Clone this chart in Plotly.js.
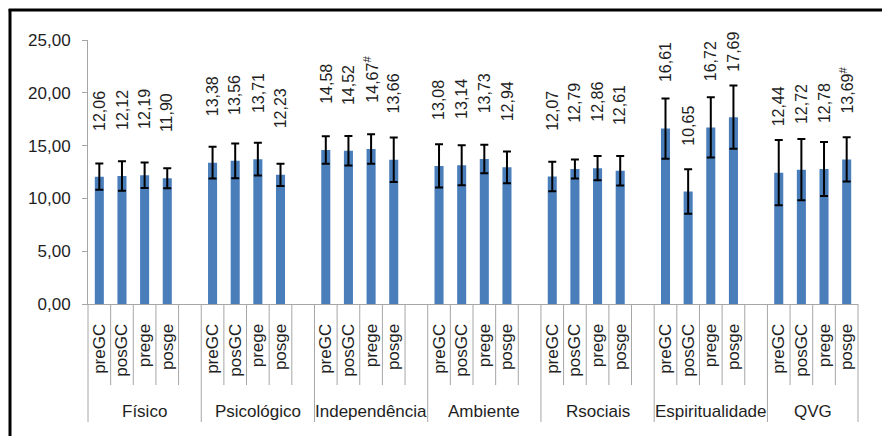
<!DOCTYPE html>
<html>
<head>
<meta charset="utf-8">
<script src="https://cdn.plot.ly/plotly-3.0.1.min.js"></script>
<style>
  html, body { margin: 0; padding: 0; background: #fff; }
  #chart { width: 882px; height: 436px; }
</style>
</head>
<body>
<div id="chart"></div>
<script>
// ---- data ----
const groups = ['Físico', 'Psicológico', 'Independência', 'Ambiente', 'Rsociais', 'Espiritualidade', 'QVG'];
const subcats = ['preGC', 'posGC', 'prege', 'posge'];
const means = [
  12.06, 12.12, 12.19, 11.90,
  13.38, 13.56, 13.71, 12.23,
  14.58, 14.52, 14.67, 13.66,
  13.08, 13.14, 13.73, 12.94,
  12.07, 12.79, 12.86, 12.61,
  16.61, 10.65, 16.72, 17.69,
  12.44, 12.72, 12.78, 13.69
];
const sds = [
  1.25, 1.40, 1.20, 0.95,
  1.50, 1.65, 1.55, 1.05,
  1.30, 1.40, 1.40, 2.10,
  2.05, 1.90, 1.35, 1.50,
  1.40, 0.90, 1.15, 1.40,
  2.85, 2.10, 2.85, 3.00,
  3.10, 2.90, 2.55, 2.10
];
const flags = [
  '', '', '', '',
  '', '', '', '',
  '', '', '#', '',
  '', '', '', '',
  '', '', '', '',
  '', '', '', '',
  '', '', '', '#'
];
const yTickVals = [0, 5, 10, 15, 20, 25];
const yTickText = ['0,00', '5,00', '10,00', '15,00', '20,00', '25,00'];

// ---- build ----
const SLOTS = subcats.length + 1;           // 4 bars + one empty slot per group
const nSlotsTotal = groups.length * SLOTS - 1; // last group has no trailing empty slot
const xMin = -0.5, xMax = nSlotsTotal - 0.5;

const xs = [], ticktext = [];
groups.forEach((g, gi) => subcats.forEach((s, si) => { xs.push(gi * SLOTS + si); ticktext.push(s); }));

const fmt = v => v.toFixed(2).replace('.', ',');
const font = 'Liberation Sans, Arial, sans-serif';
const txtCol = '#1e1e1e';
const lineCol = '#a6a6a6';

const trace = {
  type: 'bar',
  x: xs,
  y: means,
  width: 0.4,
  marker: { color: '#4a7ebb', line: { width: 0 } },
  error_y: { type: 'data', array: sds, visible: true, color: '#000', thickness: 2, width: 4 },
  hoverinfo: 'none'
};

const px = v => (v - xMin) / (xMax - xMin);
const innerBottom = -0.307, groupBottom = -0.447;
const shapes = [];
for (let k = 0; k <= nSlotsTotal; k++) {
  const b = k - 0.5;
  const isGroup = (k % SLOTS === 0) || k === nSlotsTotal;
  shapes.push({
    type: 'line', xref: 'paper', yref: 'paper',
    x0: px(b), x1: px(b), y0: 0, y1: isGroup ? groupBottom : innerBottom,
    line: { color: lineCol, width: 1 }
  });
}
// outer frame
shapes.push({ type: 'line', xref: 'paper', yref: 'paper', x0: -0.1013, x1: -0.1013, y0: 1.117, y1: -0.6, line: { color: '#000', width: 3 } });
shapes.push({ type: 'line', xref: 'paper', yref: 'paper', x0: -0.103, x1: 1.05, y0: 1.1136, y1: 1.1136, line: { color: '#000', width: 3 } });

const annotations = [];
means.forEach((v, i) => {
  annotations.push({
    x: xs[i], y: v, xref: 'x', yref: 'y',
    text: fmt(v) + (flags[i] ? '<sup>' + flags[i] + '</sup>' : ''),
    showarrow: false, textangle: -90,
    xanchor: 'center', yanchor: 'bottom', yshift: 44,
    font: { family: font, size: 16, color: txtCol }
  });
});
groups.forEach((g, gi) => {
  const start = gi * SLOTS - 0.5;
  const end = Math.min(start + SLOTS, xMax);
  annotations.push({
    x: px((start + end) / 2), y: -0.409, xref: 'paper', yref: 'paper',
    text: g, showarrow: false, xanchor: 'center', yanchor: 'middle',
    font: { family: font, size: 17, color: txtCol }
  });
});

const layout = {
  width: 882, height: 436, autosize: false,
  margin: { l: 88, r: 24, t: 40, b: 132, pad: 0 },
  paper_bgcolor: '#fff', plot_bgcolor: '#fff',
  showlegend: false,
  font: { family: font, size: 17, color: txtCol },
  xaxis: {
    type: 'linear', range: [xMin, xMax], fixedrange: true,
    tickmode: 'array', tickvals: xs, ticktext: ticktext, tickangle: -90,
    ticks: '', ticklabelstandoff: 12,
    showline: true, linecolor: lineCol, linewidth: 1,
    showgrid: false, zeroline: false,
    tickfont: { family: font, size: 17, color: txtCol }
  },
  yaxis: {
    range: [0, 25], fixedrange: true,
    tickmode: 'array', tickvals: yTickVals, ticktext: yTickText,
    ticks: 'outside', ticklen: 5, tickcolor: lineCol, tickwidth: 1,
    ticklabelstandoff: 8,
    showline: true, linecolor: lineCol, linewidth: 1,
    showgrid: false, zeroline: false,
    tickfont: { family: font, size: 17, color: txtCol }
  },
  shapes: shapes,
  annotations: annotations
};

Plotly.newPlot('chart', [trace], layout, { staticPlot: true, displayModeBar: false });
</script>
</body>
</html>
